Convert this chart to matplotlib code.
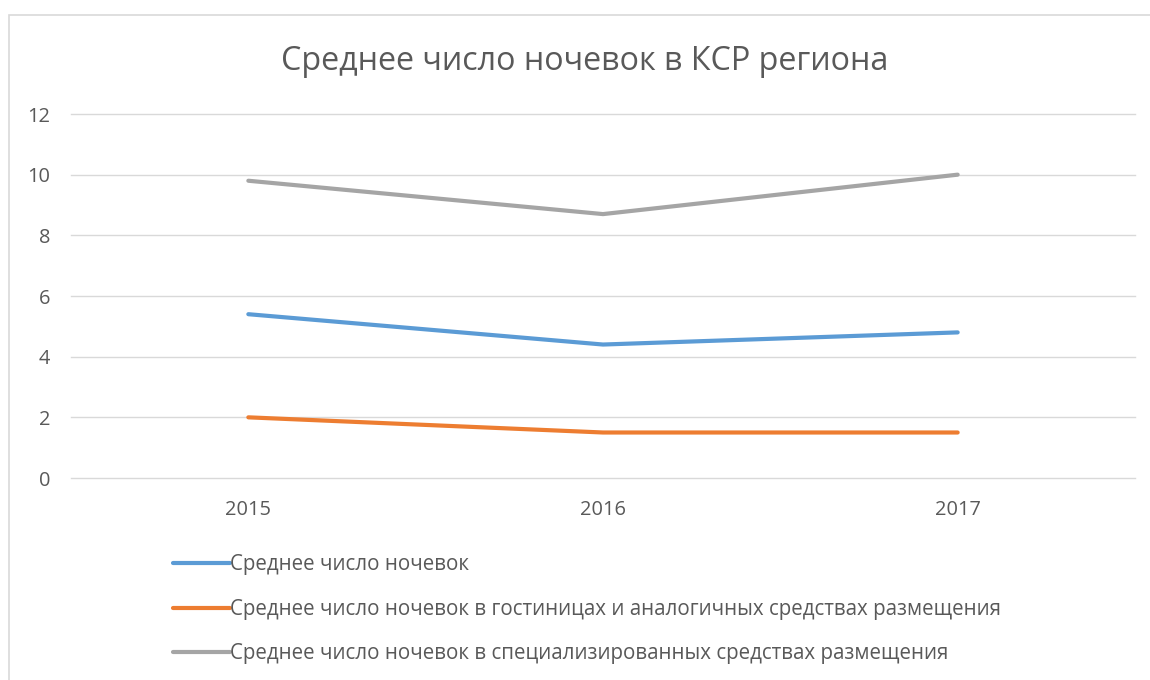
import matplotlib.pyplot as plt
from matplotlib.patches import Rectangle

# ДАННЫЕ
# ======
years = ["2015", "2016", "2017"]
avg_total = [5.4, 4.4, 4.8]
avg_hotels = [2.0, 1.5, 1.5]
avg_special = [9.8, 8.7, 10.0]

labels = [
    "Среднее число ночевок",
    "Среднее число ночевок в гостиницах и аналогичных средствах размещения",
    "Среднее число ночевок в специализированных средствах размещения",
]
colors = ["#5B9BD5", "#ED7D31", "#A5A5A5"]

plt.rcParams['font.family'] = ['Open Sans', 'DejaVu Sans']
text_col = "#595959"

fig = plt.figure(figsize=(11.5, 6.8), dpi=100)
fig.patches.append(Rectangle((9 / 1150, -0.1), 1.2, 1.1 - 15 / 680,
                             transform=fig.transFigure, fill=False,
                             edgecolor="#D9D9D9", linewidth=1.2))

ax = fig.add_axes([71 / 1150, 1 - 478 / 680, (1135 - 71) / 1150, (478 - 114) / 680])

x = range(len(years))
for vals, lab, c in zip([avg_total, avg_hotels, avg_special], labels, colors):
    ax.plot(x, vals, color=c, linewidth=3.0, solid_capstyle="round", label=lab)

ax.set_xlim(-0.5, 2.5)
ax.set_ylim(0, 12)
ax.set_yticks(range(0, 13, 2))
ax.set_xticks(list(x))
ax.set_xticklabels(years)
ax.grid(axis="y", color="#D9D9D9", linewidth=1.0)
for gl in ax.get_ygridlines():
    gl.set_clip_on(False)
ax.set_axisbelow(True)
for s in ax.spines.values():
    s.set_visible(False)
ax.tick_params(length=0, labelsize=14.4, colors=text_col)
ax.tick_params(axis="x", pad=16)
ax.tick_params(axis="y", pad=15)

fig.text(585 / 1150, 1 - 62 / 680, "Среднее число ночевок в КСР региона",
         ha="center", va="center", fontsize=23.2, color=text_col)

fig.legend(loc="upper left", bbox_to_anchor=(165 / 1150, 1 - 546 / 680),
           frameon=False, fontsize=14.8, labelcolor=text_col,
           handlelength=2.75, handletextpad=0.0, labelspacing=1.15,
           borderaxespad=0)

fig.savefig("out.png", dpi=100)
